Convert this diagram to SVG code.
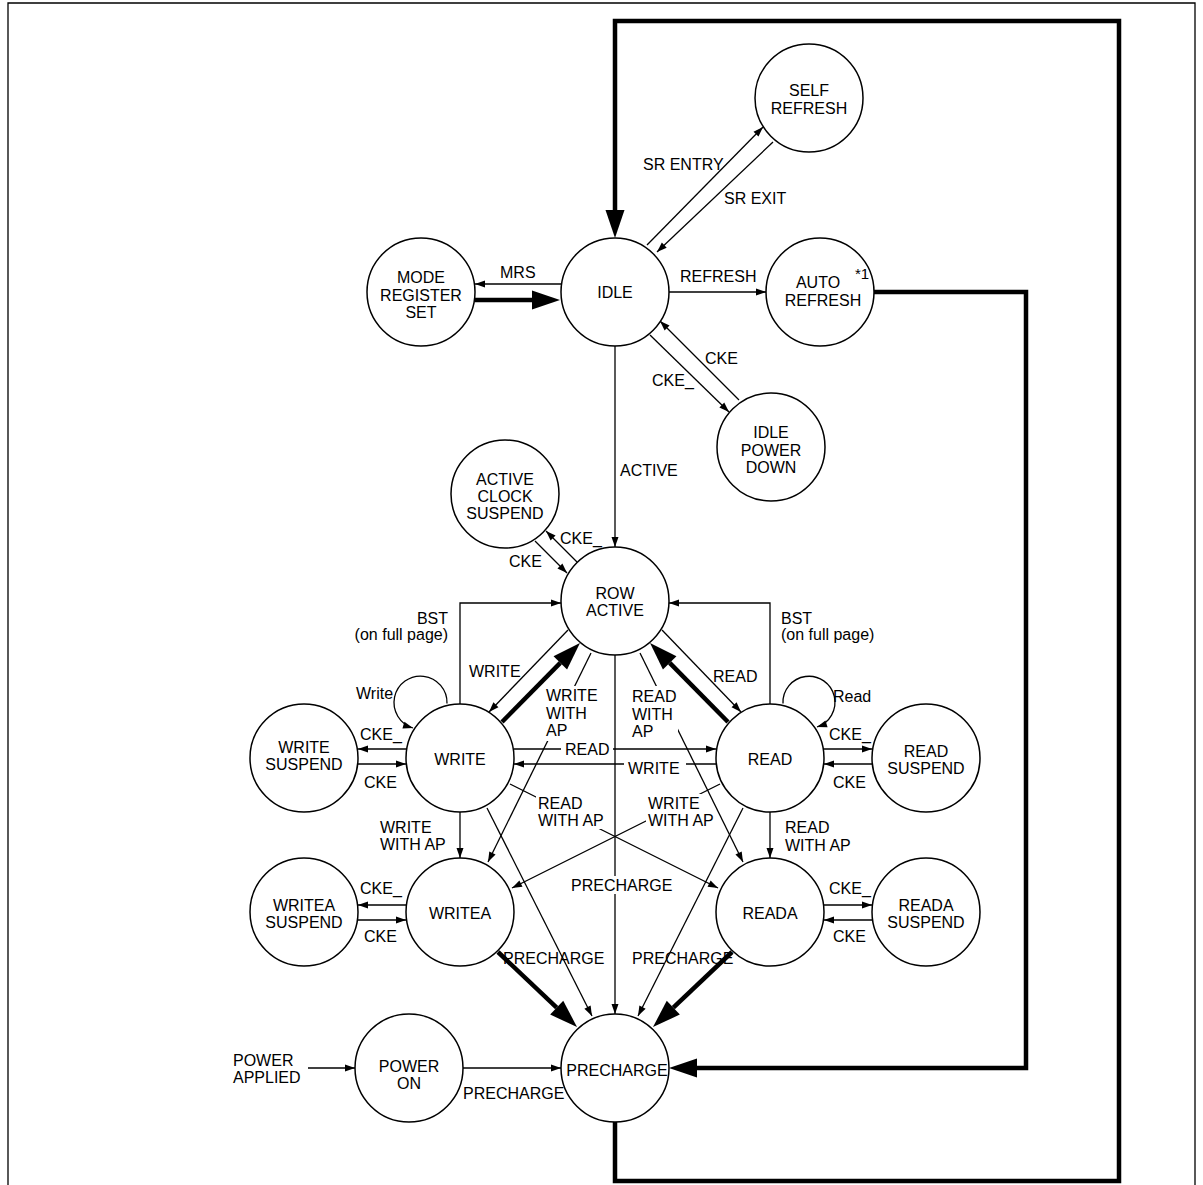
<svg xmlns="http://www.w3.org/2000/svg" width="1203" height="1185" viewBox="0 0 1203 1185">
<style>
text{font-family:"Liberation Sans",Arial,sans-serif;font-size:16px;fill:#000}
.m{text-anchor:middle}
.e{text-anchor:end}
.n circle{fill:#fff;stroke:#000;stroke-width:1.5}
.c{fill:none;stroke:#000;stroke-width:1.3;marker-end:url(#a)}
.p{fill:none;stroke:#000;stroke-width:1.3}
.k{fill:none;stroke:#000;stroke-width:4.5;stroke-linejoin:miter;marker-end:url(#ah)}
.bg{fill:#fff}
</style>
<defs>
<marker id="a" markerUnits="userSpaceOnUse" markerWidth="12" markerHeight="10" viewBox="0 -5 12 10" refX="10" refY="0" orient="auto" overflow="visible"><path d="M0,-3.5 L10,0 L0,3.5 z" fill="#000"/></marker>
<marker id="ah" markerUnits="userSpaceOnUse" markerWidth="30" markerHeight="22" viewBox="0 -11 30 22" refX="0" refY="0" orient="auto" overflow="visible"><path d="M0,-9.5 L28,0 L0,9.5 z" fill="#000"/></marker>
</defs>
<rect x="0" y="0" width="1203" height="1185" fill="#fff"/>
<path d="M8,1190 V3 H1195 V1190" fill="none" stroke="#000" stroke-width="1.3"/>
<g id="connectors">
<path class="k" d="M615,1122 V1181 H1119 V21 H615 V210"/>
<path class="k" d="M874,292 H1026 V1068 H697"/>
<path class="c" d="M647,245 L763,127"/>
<path class="c" d="M773,142 L657,252"/>
<path class="c" d="M561,284 H475"/>
<path class="k" d="M475,300 H532"/>
<path class="c" d="M669,292 H766"/>
<path class="c" d="M650,335 L729,412"/>
<path class="c" d="M739,400 L660,321"/>
<path class="c" d="M615,346 V547"/>
<path class="c" d="M577,562 L546,531"/>
<path class="c" d="M535,541 L567,573"/>
<path class="c" d="M460,704 V603 H561"/>
<path class="c" d="M770,704 V603 H669"/>
<path class="c" d="M568,630 L489,712"/>
<path class="k" d="M502,722 L560.3,662.9"/>
<path class="c" d="M662,630 L741,712"/>
<path class="k" d="M728,722 L669.7,662.9"/>
<path class="c" d="M591,653 L488,862"/>
<path class="c" d="M640,653 L743,862"/>
<path class="c" d="M615,655 V1014"/>
<path class="c" d="M447,703.5 A26.5,26.5 0 1 0 413,728"/>
<path class="c" d="M783,703.5 A26,26 0 1 1 817,727"/>
<path class="c" d="M407,749 H358"/>
<path class="c" d="M358,764 H406"/>
<path class="c" d="M514,749 H716"/>
<path class="c" d="M716,764 H514"/>
<path class="c" d="M823,749 H872"/>
<path class="c" d="M872,764 H824"/>
<path class="c" d="M510,784 L718,888"/>
<path class="c" d="M720,784 L512,888"/>
<path class="c" d="M460,812 V858"/>
<path class="c" d="M770,812 V858"/>
<path class="c" d="M487,808 L592,1016"/>
<path class="c" d="M743,808 L638,1016"/>
<path class="k" d="M498,952 L556.7,1007.7"/>
<path class="k" d="M732,952 L673.3,1007.7"/>
<path class="c" d="M407,905 H358"/>
<path class="c" d="M358,920 H406"/>
<path class="c" d="M823,905 H872"/>
<path class="c" d="M872,920 H824"/>
<path class="c" d="M308,1068 H355"/>
<path class="c" d="M463,1068 H561"/>
</g>
<g id="labels">
<rect class="bg" x="561" y="741" width="52" height="16"/>
<rect class="bg" x="624" y="757" width="62" height="16"/>
<rect class="bg" x="569" y="876" width="106" height="18"/>
<rect class="bg" x="544" y="686" width="56" height="55"/>
<rect class="bg" x="630" y="686" width="48" height="55"/>
<rect class="bg" x="536" y="794" width="71" height="35"/>
<rect class="bg" x="646" y="794" width="56" height="17"/>
<rect class="bg" x="646" y="811" width="71" height="18"/>
<text x="643" y="170">SR ENTRY</text>
<text x="724" y="204">SR EXIT</text>
<text x="500" y="278">MRS</text>
<text x="680" y="282">REFRESH</text>
<text x="705" y="364">CKE</text>
<text x="652" y="386">CKE_</text>
<text x="620" y="476">ACTIVE</text>
<text x="560" y="544">CKE_</text>
<text x="509" y="567">CKE</text>
<text class="e" x="448" y="624">BST</text>
<text class="e" x="448" y="640">(on full page)</text>
<text x="781" y="624">BST</text>
<text x="781" y="640">(on full page)</text>
<text x="469" y="677">WRITE</text>
<text x="713" y="682">READ</text>
<text x="356" y="699">Write</text>
<text x="833" y="702">Read</text>
<text x="546" y="701">WRITE<tspan x="546" y="718.5">WITH</tspan><tspan x="546" y="736">AP</tspan></text>
<text x="632" y="702">READ<tspan x="632" y="719.5">WITH</tspan><tspan x="632" y="737">AP</tspan></text>
<text x="360" y="740">CKE_</text>
<text x="364" y="788">CKE</text>
<text x="829" y="740">CKE_</text>
<text x="833" y="788">CKE</text>
<text x="565" y="755">READ</text>
<text x="628" y="774">WRITE</text>
<text x="538" y="809">READ<tspan x="538" y="826">WITH AP</tspan></text>
<text x="648" y="809">WRITE<tspan x="648" y="826">WITH AP</tspan></text>
<text x="380" y="833">WRITE<tspan x="380" y="850">WITH AP</tspan></text>
<text x="785" y="833">READ<tspan x="785" y="851">WITH AP</tspan></text>
<text x="571" y="891">PRECHARGE</text>
<text x="360" y="894">CKE_</text>
<text x="364" y="942">CKE</text>
<text x="829" y="894">CKE_</text>
<text x="833" y="942">CKE</text>
<text x="503" y="964">PRECHARGE</text>
<text x="632" y="964">PRECHARGE</text>
<text x="233" y="1066">POWER</text>
<text x="233" y="1083">APPLIED</text>
<text x="463" y="1099">PRECHARGE</text>
</g>
<g id="self-refresh" class="n"><circle cx="809" cy="98" r="54"/><text class="m" x="809" y="96">SELF</text><text class="m" x="809" y="114">REFRESH</text></g>
<g id="idle" class="n"><circle cx="615" cy="292" r="54"/><text class="m" x="615" y="298">IDLE</text></g>
<g id="mode-register-set" class="n"><circle cx="421" cy="292" r="54"/><text class="m" x="421" y="283">MODE</text><text class="m" x="421" y="300.5">REGISTER</text><text class="m" x="421" y="318">SET</text></g>
<g id="auto-refresh" class="n"><circle cx="820" cy="292" r="54"/><text class="m" x="818" y="288">AUTO</text><text class="m" x="823" y="306">REFRESH</text><text x="855" y="279" style="font-size:15px">*1</text></g>
<g id="idle-power-down" class="n"><circle cx="771" cy="447" r="54"/><text class="m" x="771" y="438">IDLE</text><text class="m" x="771" y="455.5">POWER</text><text class="m" x="771" y="473">DOWN</text></g>
<g id="active-clock-suspend" class="n"><circle cx="505" cy="494" r="54"/><text class="m" x="505" y="485">ACTIVE</text><text class="m" x="505" y="502">CLOCK</text><text class="m" x="505" y="518.5">SUSPEND</text></g>
<g id="row-active" class="n"><circle cx="615" cy="601" r="54"/><text class="m" x="615" y="599">ROW</text><text class="m" x="615" y="616">ACTIVE</text></g>
<g id="write" class="n"><circle cx="460" cy="758" r="54"/><text class="m" x="460" y="765">WRITE</text></g>
<g id="read" class="n"><circle cx="770" cy="758" r="54"/><text class="m" x="770" y="765">READ</text></g>
<g id="write-suspend" class="n"><circle cx="304" cy="758" r="54"/><text class="m" x="304" y="753">WRITE</text><text class="m" x="304" y="770">SUSPEND</text></g>
<g id="read-suspend" class="n"><circle cx="926" cy="758" r="54"/><text class="m" x="926" y="757">READ</text><text class="m" x="926" y="774">SUSPEND</text></g>
<g id="writea" class="n"><circle cx="460" cy="912" r="54"/><text class="m" x="460" y="919">WRITEA</text></g>
<g id="reada" class="n"><circle cx="770" cy="912" r="54"/><text class="m" x="770" y="919">READA</text></g>
<g id="writea-suspend" class="n"><circle cx="304" cy="912" r="54"/><text class="m" x="304" y="911">WRITEA</text><text class="m" x="304" y="928">SUSPEND</text></g>
<g id="reada-suspend" class="n"><circle cx="926" cy="912" r="54"/><text class="m" x="926" y="911">READA</text><text class="m" x="926" y="928">SUSPEND</text></g>
<g id="power-on" class="n"><circle cx="409" cy="1068" r="54"/><text class="m" x="409" y="1072">POWER</text><text class="m" x="409" y="1089">ON</text></g>
<g id="precharge" class="n"><circle cx="615" cy="1068" r="54"/><text class="m" x="617" y="1076">PRECHARGE</text></g>
</svg>
